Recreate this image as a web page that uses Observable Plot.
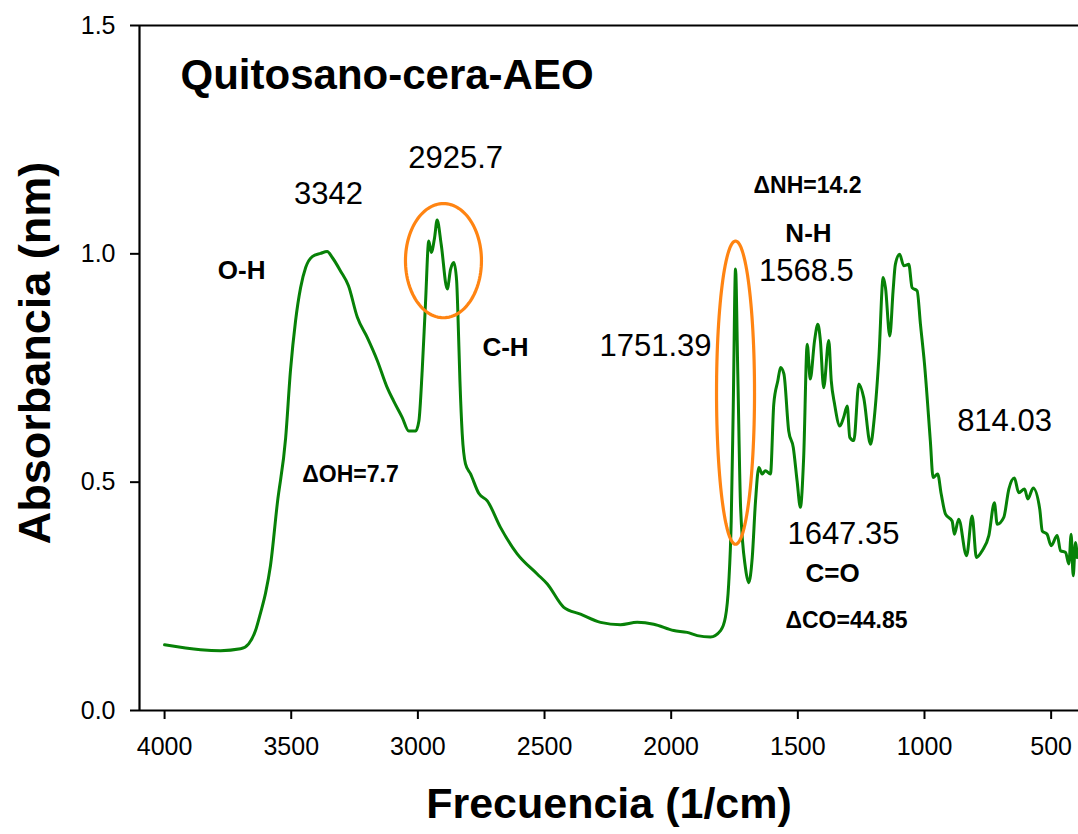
<!DOCTYPE html>
<html><head><meta charset="utf-8">
<script src="https://cdn.jsdelivr.net/npm/d3@7"></script>
<script src="https://cdn.jsdelivr.net/npm/@observablehq/plot@0.6"></script>
<style>
html,body{margin:0;padding:0;background:#fff;overflow:hidden}
#chart svg{display:block}
</style>
</head><body><div id="chart"></div>
<script>
// ---- data ----
const wavenumber = [4000,3858,3779,3700,3668,3641,3621,3601,3582,3555,
3522,3503,3483,3463,3443,3417,3384,3358,3338,3305,
3274,3239,3200,3160,3121,3096,3062,3036,3009,2996,
2983,2970,2957,2947,2934,2924,2908,2884,2871,2858,
2847,2842,2834,2825,2812,2792,2759,2726,2674,2608,
2529,2489,2424,2358,2279,2200,2134,2069,1990,1937,
1897,1845,1805,1786,1773,1763,1755,1746,1737,1726,
1707,1694,1680,1667,1654,1641,1628,1608,1595,1579,
1568,1555,1536,1518,1503,1490,1477,1463,1451,1434,
1421,1411,1398,1378,1368,1355,1334,1319,1305,1295,
1279,1259,1240,1213,1198,1180,1163,1154,1137,1124,
1115,1098,1082,1062,1049,1029,1016,1000,977,966,
948,934,917,891,882,865,834,812,795,772,
746,724,713,687,667,645,628,605,592,571,
545,535,516,500,476,463,443,430,421,413,
404,397];
const absorbance = [0.144,0.133,0.131,0.135,0.146,0.175,0.214,0.258,0.317,0.453,
0.597,0.744,0.853,0.926,0.970,0.994,1.001,1.005,0.992,0.962,
0.930,0.861,0.817,0.766,0.707,0.678,0.642,0.612,0.612,0.634,
0.744,0.891,1.028,1.003,1.036,1.074,1.021,0.923,0.966,0.981,
0.941,0.869,0.722,0.606,0.540,0.518,0.475,0.459,0.401,0.343,
0.299,0.277,0.226,0.211,0.193,0.188,0.193,0.189,0.175,0.171,
0.164,0.161,0.175,0.204,0.277,0.415,0.664,0.967,0.737,0.445,
0.313,0.280,0.335,0.459,0.532,0.518,0.525,0.518,0.671,0.722,
0.751,0.737,0.612,0.576,0.503,0.445,0.554,0.802,0.726,0.810,
0.846,0.810,0.707,0.810,0.722,0.671,0.623,0.642,0.667,0.598,
0.591,0.715,0.685,0.583,0.642,0.773,0.948,0.926,0.820,0.919,
0.977,0.999,0.974,0.977,0.926,0.919,0.846,0.759,0.591,0.510,
0.518,0.474,0.430,0.415,0.386,0.419,0.339,0.426,0.335,0.350,
0.383,0.455,0.408,0.423,0.485,0.509,0.477,0.485,0.463,0.487,
0.441,0.393,0.386,0.361,0.383,0.350,0.346,0.321,0.386,0.295,
0.368,0.335];

const xTicks = [4000,3500,3000,2500,2000,1500,1000,500];
const yTicks = [0,0.5,1.0,1.5];
const xDomain = [4099, 392];
const yDomain = [0, 1.5];

const chartTitle = "Quitosano-cera-AEO";
const titlePos = {x: 3937, y: 1.39};
const xLabel = "Frecuencia (1/cm)";
const yLabel = "Absorbancia (nm)";

// peak wavenumber labels
const peakText = ["3342","2925.7","1568.5","1751.39","814.03","1647.35"];
const peakX    = [3353, 2851, 1466, 2062, 684, 1320];
const peakY    = [1.131, 1.210, 0.962, 0.799, 0.634, 0.387];
// bond labels
const bondText = ["O-H","C-H","N-H","C=O"];
const bondX    = [3696, 2654, 1458, 1363];
const bondY    = [0.963, 0.794, 1.044, 0.299];
// delta labels
const deltaText = ["ΔOH=7.7","ΔNH=14.2","ΔCO=44.85"];
const deltaX    = [3266, 1462, 1308];
const deltaY    = [0.516, 1.149, 0.196];
// highlighted regions (ellipses): centre and radii in data units
const ellipseCx = [2899, 1746];
const ellipseCy = [0.985, 0.696];
const ellipseRx = [150, 75];
const ellipseRy = [0.125, 0.332];

// ---- build tables ----
const spectrum = wavenumber.map((w, i) => ({w, a: absorbance[i]}));
const peaks = peakText.map((t, i) => ({t, x: peakX[i], y: peakY[i]}));
const bonds = bondText.map((t, i) => ({t, x: bondX[i], y: bondY[i]}));
const deltas = deltaText.map((t, i) => ({t, x: deltaX[i], y: deltaY[i]}));
const ellipsePts = [];
ellipseCx.forEach((cx, k) => {
  for (let j = 0; j <= 120; j++) {
    const t = 2 * Math.PI * j / 120;
    ellipsePts.push({k, x: cx + ellipseRx[k] * Math.cos(t), y: ellipseCy[k] + ellipseRy[k] * Math.sin(t)});
  }
});

const font = "'Liberation Sans', Arial, Helvetica, sans-serif";

const chart = Plot.plot({
  width: 1078,
  height: 834,
  marginLeft: 139,
  marginRight: 0,
  marginTop: 25,
  marginBottom: 124,
  style: {fontFamily: font, background: "#fff", color: "#000", overflow: "visible"},
  x: {domain: xDomain, ticks: xTicks, label: null},
  y: {domain: yDomain, ticks: yTicks, label: null},
  marks: [
    Plot.axisX({ticks: xTicks, tickSize: 9, tickPadding: 18, fontSize: 25, strokeWidth: 2, label: null, tickFormat: d => String(d)}),
    Plot.axisY({ticks: yTicks, tickSize: 9, tickPadding: 15, fontSize: 25, strokeWidth: 2, label: null, tickFormat: d => d.toFixed(1)}),
    Plot.ruleY([yDomain[0]], {stroke: "#000", strokeWidth: 2.2}),
    Plot.ruleY([yDomain[1]], {stroke: "#000", strokeWidth: 2}),
    Plot.ruleX([xDomain[0]], {stroke: "#000", strokeWidth: 2.2}),
    Plot.line(spectrum, {x: "w", y: "a", stroke: "#078107", strokeWidth: 3, curve: "monotone-x"}),
    Plot.line(ellipsePts, {x: "x", y: "y", z: "k", stroke: "#ff8412", strokeWidth: 3.2}),
    Plot.text([chartTitle], {x: () => titlePos.x, y: () => titlePos.y, text: d => d, textAnchor: "start", fontSize: 42, fontWeight: "bold", fill: "#000"}),
    Plot.text(peaks, {x: "x", y: "y", text: "t", fontSize: 31, fill: "#000"}),
    Plot.text(bonds, {x: "x", y: "y", text: "t", fontSize: 26, fontWeight: "bold", fill: "#000"}),
    Plot.text(deltas, {x: "x", y: "y", text: "t", fontSize: 23, fontWeight: "bold", fill: "#000"}),
    Plot.text([xLabel], {frameAnchor: "bottom", textAnchor: "middle", dy: 107, fontSize: 43, fontWeight: "bold", fill: "#000"}),
    Plot.text([yLabel], {frameAnchor: "left", textAnchor: "middle", dx: -104, dy: -15, rotate: -90, fontSize: 45, fontWeight: "bold", fill: "#000"})
  ]
});
document.getElementById("chart").appendChild(chart);
</script>
</body></html>
